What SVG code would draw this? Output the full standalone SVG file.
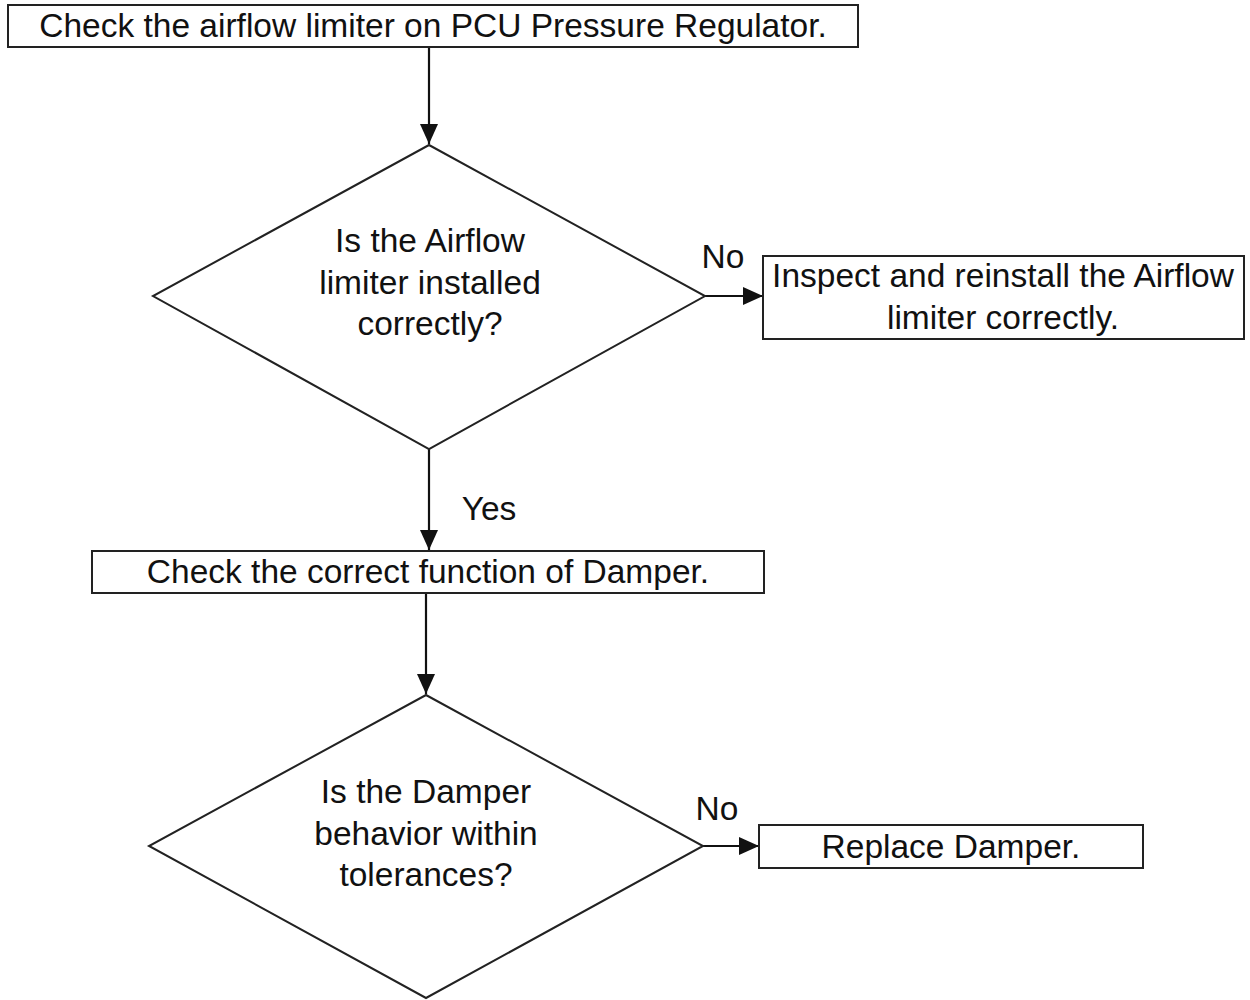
<svg xmlns="http://www.w3.org/2000/svg" width="1250" height="1000" viewBox="0 0 1250 1000">
  <style>
    .box { fill: #ffffff; stroke: #222222; stroke-width: 2; }
    .lbl { font-family: "Liberation Sans", Arial, sans-serif; font-size: 33.5px; fill: #111111; text-anchor: middle; }
    .edge { fill: none; stroke: #111111; stroke-width: 2.2; marker-end: url(#arrow); }
  </style>
  <defs>
    <marker id="arrow" viewBox="0 0 20 18" refX="20" refY="9" markerWidth="20" markerHeight="18" markerUnits="userSpaceOnUse" orient="auto">
      <path d="M0,0 L20,9 L0,18 Z" fill="#111111"/>
    </marker>
  </defs>
  <rect width="1250" height="1000" fill="#ffffff"/>

  <g id="connectors">
    <line class="edge" x1="429" y1="47" x2="429" y2="144"/>
    <line class="edge" x1="705" y1="296" x2="763" y2="296"/>
    <line class="edge" x1="429" y1="449" x2="429" y2="550"/>
    <line class="edge" x1="426" y1="593" x2="426" y2="694"/>
    <line class="edge" x1="703" y1="846" x2="759" y2="846"/>
    <text class="lbl" x="723" y="268">No</text>
    <text class="lbl" x="489" y="520">Yes</text>
    <text class="lbl" x="717" y="820">No</text>
  </g>

  <g id="start">
    <rect class="box" x="8" y="5" width="850" height="42"/>
    <text class="lbl" x="433" y="37">Check the airflow limiter on PCU Pressure Regulator.</text>
  </g>

  <g id="decision-airflow">
    <polygon class="box" points="429,145 705,296 429,449 153,296"/>
    <text class="lbl" x="430" y="252">Is the Airflow</text>
    <text class="lbl" x="430" y="294">limiter installed</text>
    <text class="lbl" x="430" y="335">correctly?</text>
  </g>

  <g id="reinstall">
    <rect class="box" x="763" y="256" width="481" height="83"/>
    <text class="lbl" x="1003" y="287">Inspect and reinstall the Airflow</text>
    <text class="lbl" x="1003" y="329">limiter correctly.</text>
  </g>

  <g id="check-damper">
    <rect class="box" x="92" y="551" width="672" height="42"/>
    <text class="lbl" x="428" y="583">Check the correct function of Damper.</text>
  </g>

  <g id="decision-damper">
    <polygon class="box" points="426,695 703,846 426,998 149,846"/>
    <text class="lbl" x="426" y="803">Is the Damper</text>
    <text class="lbl" x="426" y="845">behavior within</text>
    <text class="lbl" x="426" y="886">tolerances?</text>
  </g>

  <g id="replace-damper">
    <rect class="box" x="759" y="825" width="384" height="43"/>
    <text class="lbl" x="951" y="858">Replace Damper.</text>
  </g>
</svg>
